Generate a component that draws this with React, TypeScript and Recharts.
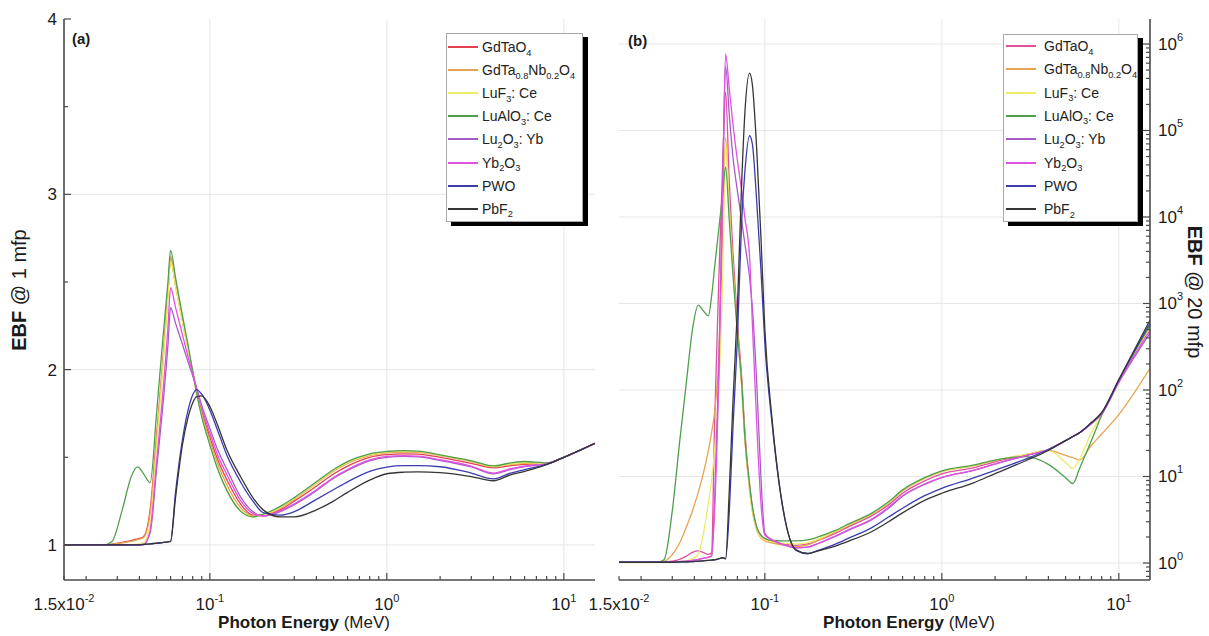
import React from 'react';
import { LineChart, Line, XAxis, YAxis, ReferenceLine } from 'recharts';

const FONT = '"Liberation Sans", Arial, Helvetica, sans-serif';
const AXIS = '#4a4a4a';
const GRID = '#e6e6e6';
const TEXT = '#1a1a1a';

const SERIES_NAMES = ['GdTaO4', 'GdTa0.8Nb0.2O4', 'LuF3: Ce', 'LuAlO3: Ce', 'Lu2O3: Yb', 'Yb2O3', 'PWO', 'PbF2'];
const COLORS_A = ['#e2404f', '#e6a352', '#f0ea66', '#4f9f4f', '#a65cc8', '#e052e0', '#3c3cae', '#353535'];
const COLORS_B = ['#e0509c', '#e6a352', '#f0ea66', '#4f9f4f', '#a65cc8', '#e052e0', '#3c3cae', '#353535'];

// ---------- Panel (a): EBF @ 1 mfp ----------
const ENERGY_A = [0.015, 0.02, 0.025, 0.028, 0.032, 0.036, 0.039, 0.042, 0.046, 0.05, 0.054, 0.058, 0.06, 0.064, 0.07, 0.075, 0.08, 0.084, 0.09, 0.1, 0.11, 0.125, 0.15, 0.175, 0.2, 0.25, 0.3, 0.4, 0.5, 0.6, 0.8, 1, 1.25, 1.5, 2, 3, 4, 5, 6, 8, 10, 15];
const GDTAO4_A = [1.0, 1.0, 1.0, 1.005, 1.015, 1.025, 1.035, 1.045, 1.2, 1.62, 2.02, 2.44, 2.63, 2.48, 2.28, 2.13, 1.99, 1.89, 1.765, 1.615, 1.495, 1.37, 1.23, 1.17, 1.17, 1.2, 1.25, 1.335, 1.405, 1.45, 1.5, 1.515, 1.52, 1.518, 1.5, 1.465, 1.44, 1.452, 1.46, 1.465, 1.5, 1.58];
const GDTANB_A = [1.0, 1.0, 1.0, 1.005, 1.012, 1.02, 1.03, 1.04, 1.18, 1.6, 2.01, 2.44, 2.645, 2.49, 2.285, 2.13, 1.985, 1.88, 1.75, 1.595, 1.47, 1.34, 1.21, 1.165, 1.17, 1.21, 1.26, 1.35, 1.42, 1.465, 1.51, 1.525, 1.53, 1.528, 1.51, 1.475, 1.445, 1.458, 1.465, 1.465, 1.5, 1.58];
const LUF3_A = [1.0, 1.0, 1.0, 1.0, 1.0, 1.002, 1.005, 1.01, 1.12, 1.56, 1.98, 2.41, 2.62, 2.475, 2.27, 2.12, 1.98, 1.87, 1.735, 1.575, 1.445, 1.31, 1.195, 1.16, 1.17, 1.215, 1.265, 1.355, 1.425, 1.47, 1.515, 1.53, 1.535, 1.532, 1.512, 1.478, 1.448, 1.462, 1.47, 1.466, 1.5, 1.58];
const LUALO3_A = [1.0, 1.0, 1.0, 1.02, 1.2, 1.39, 1.445, 1.41, 1.355, 1.75, 2.15, 2.5, 2.68, 2.525, 2.31, 2.15, 1.99, 1.87, 1.73, 1.57, 1.44, 1.31, 1.19, 1.16, 1.175, 1.22, 1.27, 1.36, 1.43, 1.475, 1.52, 1.533, 1.538, 1.535, 1.514, 1.48, 1.451, 1.468, 1.476, 1.468, 1.5, 1.58];
const LU2O3_A = [1.0, 1.0, 1.0, 1.0, 1.0, 1.0, 1.0, 1.0, 1.07, 1.43, 1.77, 2.14, 2.353, 2.265, 2.145, 2.05, 1.965, 1.9, 1.795, 1.665, 1.55, 1.43, 1.27, 1.19, 1.165, 1.19, 1.23, 1.31, 1.38, 1.425, 1.48, 1.5, 1.505, 1.502, 1.482, 1.445, 1.406, 1.43, 1.447, 1.462, 1.5, 1.58];
const YB2O3_A = [1.0, 1.0, 1.0, 1.0, 1.0, 1.0, 1.0, 1.0, 1.08, 1.47, 1.84, 2.24, 2.467, 2.355, 2.2, 2.08, 1.975, 1.895, 1.78, 1.64, 1.52, 1.4, 1.25, 1.18, 1.165, 1.195, 1.235, 1.315, 1.385, 1.43, 1.485, 1.505, 1.51, 1.507, 1.486, 1.45, 1.41, 1.435, 1.45, 1.463, 1.5, 1.58];
const PWO_A = [1.0, 1.0, 1.0, 1.0, 1.0, 1.0, 1.0, 1.003, 1.006, 1.01, 1.013, 1.018, 1.02, 1.3, 1.6, 1.76, 1.855, 1.886, 1.86, 1.77, 1.66, 1.51, 1.355, 1.25, 1.185, 1.17, 1.19, 1.26, 1.315, 1.36, 1.42, 1.444, 1.452, 1.452, 1.446, 1.41, 1.377, 1.41, 1.43, 1.46, 1.5, 1.58];
const PBF2_A = [1.0, 1.0, 1.0, 1.0, 1.0, 1.0, 1.0, 1.003, 1.006, 1.01, 1.013, 1.018, 1.02, 1.27, 1.57, 1.72, 1.81, 1.845, 1.85, 1.79, 1.69, 1.54, 1.385, 1.27, 1.2, 1.16, 1.16, 1.2, 1.25, 1.3, 1.37, 1.406, 1.415, 1.417, 1.413, 1.39, 1.366, 1.4, 1.42, 1.458, 1.5, 1.58];

// ---------- Panel (b): EBF @ 20 mfp ----------
const ENERGY_B = [0.015, 0.02, 0.025, 0.027, 0.03, 0.033, 0.036, 0.039, 0.042, 0.045, 0.048, 0.05, 0.052, 0.055, 0.058, 0.06, 0.063, 0.066, 0.07, 0.074, 0.077, 0.082, 0.085, 0.09, 0.095, 0.1, 0.11, 0.125, 0.15, 0.175, 0.2, 0.25, 0.3, 0.4, 0.5, 0.6, 0.8, 1, 1.5, 2, 3, 4, 5, 5.5, 6, 7, 8, 10, 15];
const GDTAO4_B = [1.02, 1.02, 1.02, 1.03, 1.05, 1.1, 1.2, 1.33, 1.38, 1.32, 1.26, 1.3, 40, 2000, 5e4, 2.8e5, 2.5e4, 4000, 600, 140, 35, 8, 4.5, 2.6, 2.1, 1.9, 1.75, 1.65, 1.6, 1.66, 1.82, 2.2, 2.65, 3.5, 4.7, 6.4, 8.9, 10.7, 12.6, 14.8, 17.8, 20.5, 26, 29, 32, 41, 53, 128, 540];
const GDTANB_B = [1.02, 1.02, 1.03, 1.05, 1.25, 1.7, 2.6, 4, 6.5, 11, 20, 32, 55, 250, 9000, 8.2e4, 1.3e4, 2700, 500, 110, 28, 7, 4, 2.4, 1.95, 1.8, 1.7, 1.62, 1.55, 1.62, 1.82, 2.28, 2.75, 3.65, 4.95, 6.8, 9.5, 11.4, 13.3, 15.3, 18, 20, 17.5, 16.5, 15.5, 23, 31, 52, 178];
const LUF3_B = [1.02, 1.02, 1.02, 1.02, 1.03, 1.04, 1.06, 1.12, 1.25, 2.2, 5, 9, 20, 110, 2500, 7.5e4, 1.2e4, 2500, 450, 110, 28, 7, 4, 2.5, 2.0, 1.85, 1.75, 1.7, 1.66, 1.72, 1.9, 2.33, 2.8, 3.7, 5.0, 6.9, 9.6, 11.5, 13.4, 15.4, 18, 20, 14.5, 12.4, 16, 32, 52, 125, 520];
const LUALO3_B = [1.02, 1.02, 1.03, 1.1, 4, 25, 120, 500, 960, 820, 720, 1200, 2600, 7400, 2e4, 3.8e4, 9000, 2200, 450, 120, 30, 8, 4.5, 2.6, 2.1, 1.93, 1.82, 1.8, 1.8, 1.85, 2.0, 2.38, 2.85, 3.75, 5.1, 7.0, 9.7, 11.6, 13.5, 15.5, 17, 13.8, 9.7, 8.3, 12.4, 26, 51, 128, 560];
const LU2O3_B = [1.02, 1.02, 1.02, 1.02, 1.03, 1.04, 1.05, 1.07, 1.1, 1.13, 1.17, 1.2, 5, 200, 4e4, 5.5e5, 1.5e5, 5e4, 2e4, 9000, 5000, 2000, 900, 120, 10, 2.2, 1.85, 1.66, 1.5, 1.53, 1.68, 2.03, 2.42, 3.15, 4.3, 5.9, 8.1, 9.7, 11.7, 13.9, 17.4, 20.5, 26, 29, 32, 41, 53, 122, 455];
const YB2O3_B = [1.02, 1.02, 1.02, 1.02, 1.03, 1.04, 1.05, 1.07, 1.1, 1.13, 1.17, 1.2, 4, 150, 3e4, 7.7e5, 3e5, 1.2e5, 4.5e4, 2e4, 1e4, 3500, 600, 40, 5, 2.1, 1.85, 1.65, 1.5, 1.53, 1.68, 2.05, 2.45, 3.2, 4.4, 6.0, 8.2, 9.8, 11.8, 14, 17.5, 20.5, 26, 29, 32, 41, 53, 125, 490];
const PWO_B = [1.02, 1.02, 1.02, 1.02, 1.02, 1.03, 1.03, 1.04, 1.05, 1.06, 1.07, 1.08, 1.09, 1.12, 1.15, 1.12, 4, 35, 400, 9000, 3.2e4, 8.7e4, 7e4, 1.5e4, 2500, 350, 40, 5, 1.4, 1.28, 1.4, 1.65, 1.95, 2.55, 3.4, 4.3, 6.0, 7.3, 9.6, 11.8, 16, 20.5, 26, 29, 32, 42, 54, 130, 595];
const PBF2_B = [1.02, 1.02, 1.02, 1.02, 1.02, 1.03, 1.03, 1.04, 1.05, 1.06, 1.07, 1.08, 1.09, 1.12, 1.15, 1.12, 7, 70, 900, 2.5e4, 1.5e5, 4.6e5, 3.4e5, 6e4, 6000, 500, 45, 5, 1.42, 1.29, 1.38, 1.57, 1.8, 2.3, 3.0, 3.8, 5.3, 6.4, 8.4, 10.8, 15.3, 20, 26, 29, 32, 42, 55, 132, 645];

// ---------- Ticks ----------
const X_MAJOR = [0.1, 1, 10];
const X_MINOR = [0.02, 0.03, 0.04, 0.05, 0.06, 0.07, 0.08, 0.09, 0.2, 0.3, 0.4, 0.5, 0.6, 0.7, 0.8, 0.9, 2, 3, 4, 5, 6, 7, 8, 9];
const X_TICKS = [0.015, ...X_MINOR, ...X_MAJOR].sort((a, b) => a - b);
const X_LABELS: [number, string, string][] = [[0.015, '1.5x10', '-2'], [0.1, '10', '-1'], [1, '10', '0'], [10, '10', '1']];

const YA_MAJOR = [1, 2, 3, 4];
const YA_TICKS = [1, 1.5, 2, 2.5, 3, 3.5, 4];
const YA_LABELS: [number, string, string][] = [[1, '1', ''], [2, '2', ''], [3, '3', ''], [4, '4', '']];

const YB_MAJOR = [1, 10, 100, 1000, 1e4, 1e5, 1e6];
const YB_MINOR_MULT = [2, 3, 4, 5, 6, 7, 8, 9];
const YB_TICKS = [0.7, 0.8, 0.9, ...YB_MAJOR, ...YB_MAJOR.slice(0, 6).flatMap((d) => YB_MINOR_MULT.map((m) => m * d))].sort((a, b) => a - b);
const YB_LABELS: [number, string, string][] = [[1, '10', '0'], [10, '10', '1'], [100, '10', '2'], [1000, '10', '3'], [1e4, '10', '4'], [1e5, '10', '5'], [1e6, '10', '6']];

const buildRows = (energy: number[], series: number[][]) =>
  energy.map((e, i) => {
    const row: Record<string, number> = { E: e };
    series.forEach((s, k) => {
      row['s' + k] = s[i];
    });
    return row;
  });

const DATA_A = buildRows(ENERGY_A, [GDTAO4_A, GDTANB_A, LUF3_A, LUALO3_A, LU2O3_A, YB2O3_A, PWO_A, PBF2_A]);
const DATA_B = buildRows(ENERGY_B, [GDTAO4_B, GDTANB_B, LUF3_B, LUALO3_B, LU2O3_B, YB2O3_B, PWO_B, PBF2_B]);

const near = (a: number, b: number) => Math.abs(a - b) <= Math.abs(b) * 1e-6;

function AxisTick(props: any) {
  const { x, y, payload, side, majors, labels } = props;
  const v = Number(payload && payload.value);
  const major = majors.some((m: number) => near(v, m));
  const len = major ? 7 : 4;
  const lab = labels ? labels.find((l: [number, string, string]) => near(v, l[0])) : undefined;
  let line = null;
  if (side === 'bottom') line = <line x1={x} x2={x} y1={y} y2={y - len} stroke={AXIS} strokeWidth={1.2} />;
  if (side === 'top') line = <line x1={x} x2={x} y1={y} y2={y + len} stroke={AXIS} strokeWidth={1.2} />;
  if (side === 'left') line = <line x1={x} x2={x + len} y1={y} y2={y} stroke={AXIS} strokeWidth={1.2} />;
  if (side === 'right') line = <line x1={x} x2={x - len} y1={y} y2={y} stroke={AXIS} strokeWidth={1.2} />;
  let text = null;
  if (lab) {
    if (side === 'bottom') {
      text = (
        <text x={x} y={y + 30} textAnchor="middle" fontFamily={FONT} fontSize={17} fill={TEXT}>
          {lab[1]}
          <tspan fontSize={11} dy={-8}>{lab[2]}</tspan>
        </text>
      );
    } else if (side === 'left') {
      text = (
        <text x={x - 7} y={y + 6} textAnchor="end" fontFamily={FONT} fontSize={17} fill={TEXT}>
          {lab[1]}
        </text>
      );
    } else if (side === 'right') {
      text = (
        <text x={x + 8} y={y + 6} textAnchor="start" fontFamily={FONT} fontSize={17} fill={TEXT}>
          {lab[1]}
          <tspan fontSize={11} dy={-9}>{lab[2]}</tspan>
        </text>
      );
    }
  }
  return (
    <g>
      {line}
      {text}
    </g>
  );
}

function chem(name: string) {
  const parts = name.split(/(\d+(?:\.\d+)?)/);
  return parts.map((p, i) =>
    i % 2 === 1 ? (
      <span key={i} style={{ fontSize: '0.66em', position: 'relative', top: '0.38em' }}>
        {p}
      </span>
    ) : (
      <span key={i}>{p}</span>
    )
  );
}

function LegendBox(props: { left: number; top: number; width: number; height: number; colors: string[]; lineStart: number; textStart: number; step: number; first: number }) {
  const { left, top, width, height, colors, lineStart, textStart, step, first } = props;
  return (
    <div
      style={{
        position: 'absolute',
        left,
        top,
        width,
        height,
        background: '#fff',
        border: '1px solid #a8a8a8',
        boxShadow: '5px 4px 0 0 #000',
        boxSizing: 'border-box',
        fontFamily: FONT,
        fontSize: 14,
        color: '#222',
      }}
    >
      {SERIES_NAMES.map((n, i) => (
        <div key={n} style={{ position: 'absolute', left: 0, top: first + i * step - 9, height: 18, width: '100%' }}>
          <div style={{ position: 'absolute', left: lineStart, width: 30, top: 8, height: 2, background: colors[i] }} />
          <div style={{ position: 'absolute', left: textStart, top: 0, lineHeight: '18px', whiteSpace: 'nowrap' }}>{chem(n)}</div>
        </div>
      ))}
    </div>
  );
}

const axisLine = { stroke: AXIS, strokeWidth: 1.6 };

function Panel(props: {
  data: Record<string, number>[];
  colors: string[];
  yScale: 'linear' | 'log';
  yDomain: [number, number];
  yTicks: number[];
  yMajor: number[];
  yGrid: number[];
  leftLabels?: [number, string, string][];
  rightLabels?: [number, string, string][];
  width: number;
  margin: { top: number; right: number; bottom: number; left: number };
  leftWidth: number;
  rightWidth: number;
}) {
  const { data, colors, yScale, yDomain, yTicks, yMajor, yGrid, leftLabels, rightLabels, width, margin, leftWidth, rightWidth } = props;
  return (
    <LineChart width={width} height={636} data={data} margin={margin}>
      <XAxis
        xAxisId="B"
        dataKey="E"
        type="number"
        scale="log"
        domain={[0.015, 15]}
        allowDataOverflow
        ticks={X_TICKS}
        interval={0}
        tickSize={0}
        tickMargin={0}
        tickLine={false}
        axisLine={axisLine}
        height={30}
        tick={(p: any) => <AxisTick {...p} side="bottom" majors={X_MAJOR} labels={X_LABELS} />}
      />
      <XAxis
        xAxisId="T"
        orientation="top"
        dataKey="E"
        type="number"
        scale="log"
        domain={[0.015, 15]}
        allowDataOverflow
        ticks={X_TICKS}
        interval={0}
        tickSize={0}
        tickMargin={0}
        tickLine={false}
        axisLine={axisLine}
        height={0}
        tick={(p: any) => <AxisTick {...p} side="top" majors={X_MAJOR} />}
      />
      <YAxis
        yAxisId="L"
        type="number"
        scale={yScale}
        domain={yDomain}
        allowDataOverflow
        ticks={yTicks}
        interval={0}
        tickSize={0}
        tickMargin={0}
        tickLine={false}
        axisLine={axisLine}
        width={leftWidth}
        tick={(p: any) => <AxisTick {...p} side="left" majors={yMajor} labels={leftLabels} />}
      />
      <YAxis
        yAxisId="R"
        orientation="right"
        type="number"
        scale={yScale}
        domain={yDomain}
        allowDataOverflow
        ticks={yTicks}
        interval={0}
        tickSize={0}
        tickMargin={0}
        tickLine={false}
        axisLine={axisLine}
        width={rightWidth}
        tick={(p: any) => <AxisTick {...p} side="right" majors={yMajor} labels={rightLabels} />}
      />
      {X_MAJOR.map((v) => (
        <ReferenceLine key={'gx' + v} x={v} xAxisId="B" yAxisId="L" stroke={GRID} strokeWidth={1} />
      ))}
      {yGrid.map((v) => (
        <ReferenceLine key={'gy' + v} y={v} xAxisId="B" yAxisId="L" stroke={GRID} strokeWidth={1} />
      ))}
      {SERIES_NAMES.map((n, k) => (
        <Line
          key={n}
          name={n}
          dataKey={'s' + k}
          xAxisId="B"
          yAxisId="L"
          type="monotone"
          stroke={colors[k]}
          strokeWidth={1.3}
          dot={false}
          activeDot={false}
          isAnimationActive={false}
        />
      ))}
    </LineChart>
  );
}

export default function App() {
  return (
    <div style={{ position: 'absolute', left: 0, top: 0, width: 1209, height: 636, background: '#fff', overflow: 'hidden' }}>
      <div style={{ position: 'absolute', left: 0, top: 0 }}>
        <Panel
          data={DATA_A}
          colors={COLORS_A}
          yScale="linear"
          yDomain={[0.8, 4]}
          yTicks={YA_TICKS}
          yMajor={YA_MAJOR}
          yGrid={[1, 2, 3]}
          leftLabels={YA_LABELS}
          width={600}
          margin={{ top: 19, right: 5, bottom: 26, left: 0 }}
          leftWidth={64}
          rightWidth={0}
        />
      </div>
      <div style={{ position: 'absolute', left: 560, top: 0 }}>
        <Panel
          data={DATA_B}
          colors={COLORS_B}
          yScale="log"
          yDomain={[0.636, 1.945e6]}
          yTicks={YB_TICKS}
          yMajor={YB_MAJOR}
          yGrid={YB_MAJOR}
          rightLabels={YB_LABELS}
          width={649}
          margin={{ top: 19, right: 0, bottom: 26, left: 59 }}
          leftWidth={0}
          rightWidth={59}
        />
      </div>
      <LegendBox left={446} top={33} width={137} height={189} colors={COLORS_A} lineStart={1} textStart={35} step={23.1} first={13} />
      <LegendBox left={1003} top={34} width={135} height={188} colors={COLORS_B} lineStart={2} textStart={40} step={23.3} first={11} />
      <svg width={1209} height={636} style={{ position: 'absolute', left: 0, top: 0, pointerEvents: 'none' }}>
        <text x={72} y={44} fontFamily={FONT} fontSize={15} fontWeight="bold" fill={TEXT}>(a)</text>
        <text x={628} y={46} fontFamily={FONT} fontSize={15} fontWeight="bold" fill={TEXT}>(b)</text>
        <text x={26} y={290} transform="rotate(-90 26 290)" textAnchor="middle" fontFamily={FONT} fontSize={20} fill={TEXT}>
          <tspan fontWeight="bold">EBF</tspan>
          <tspan> @ 1 mfp</tspan>
        </text>
        <text x={1188} y={292} transform="rotate(90 1188 292)" textAnchor="middle" fontFamily={FONT} fontSize={20} fill={TEXT}>
          <tspan fontWeight="bold">EBF</tspan>
          <tspan> @ 20 mfp</tspan>
        </text>
        <text x={304} y={628} textAnchor="middle" fontFamily={FONT} fontSize={17} fill={TEXT}>
          <tspan fontWeight="bold">Photon Energy</tspan>
          <tspan> (MeV)</tspan>
        </text>
        <text x={909} y={628} textAnchor="middle" fontFamily={FONT} fontSize={17} fill={TEXT}>
          <tspan fontWeight="bold">Photon Energy</tspan>
          <tspan> (MeV)</tspan>
        </text>
      </svg>
    </div>
  );
}
